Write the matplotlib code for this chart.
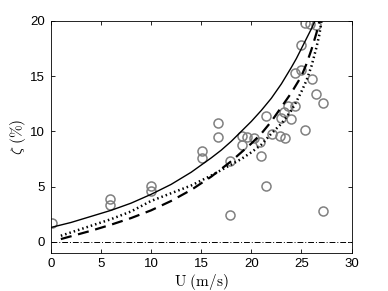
import matplotlib
matplotlib.use('Agg')
import matplotlib.pyplot as plt

plt.rcParams['font.family'] = ['Liberation Sans', 'DejaVu Sans']
plt.rcParams['mathtext.fontset'] = 'cm'

# measured damping points
meas_u = [0.1, 5.9, 5.9, 10.0, 10.0, 15.1, 15.1, 16.7, 16.7, 17.9, 17.9,
          19.1, 19.1, 19.6, 20.3, 20.9, 21.0, 21.5, 21.5, 22.1, 22.9, 23.4,
          23.0, 24.0, 23.3, 23.7, 24.4, 24.4, 25.0, 25.0, 25.4, 25.9, 26.5,
          26.1, 26.5, 27.2, 25.4, 27.2]
meas_z = [1.7, 3.9, 3.3, 5.1, 4.6, 8.2, 7.6, 10.8, 9.5, 7.3, 2.4,
          9.6, 8.8, 9.5, 9.4, 9.0, 7.8, 11.4, 5.1, 9.8, 9.6, 9.4,
          11.2, 11.1, 11.8, 12.3, 12.3, 15.3, 15.6, 17.8, 19.8, 19.7, 19.6,
          14.7, 13.4, 12.6, 10.1, 2.8]

# model curves
solid_u = [0, 2, 4, 6, 8, 10, 12, 14, 16, 17, 18, 19, 20, 21, 22, 23, 24,
           24.5, 25, 25.5, 26, 26.35]
solid_z = [1.3, 1.75, 2.3, 2.85, 3.5, 4.3, 5.2, 6.3, 7.6, 8.3, 9.1, 10.0,
           10.9, 11.9, 13.0, 14.3, 15.8, 16.6, 17.5, 18.4, 19.3, 20.0]

dash_u = [1, 2, 4, 6, 8, 10, 12, 14, 16, 18, 19, 20, 21, 22, 23, 24, 25,
          25.5, 26, 26.5, 26.8]
dash_z = [0.25, 0.5, 1.0, 1.55, 2.15, 2.85, 3.7, 4.7, 5.9, 7.3, 8.1, 8.9,
          9.8, 10.9, 12.2, 13.5, 15.0, 16.1, 17.4, 18.9, 20.0]

dot_u = [1, 2, 4, 6, 8, 10, 12, 14, 16, 18, 19, 20, 21, 22, 23, 24, 24.5,
         25, 25.5, 26, 26.5, 26.8, 27.0]
dot_z = [0.55, 0.85, 1.45, 2.05, 2.75, 3.7, 4.4, 5.1, 6.0, 7.0, 7.5, 8.1,
         8.8, 9.8, 10.7, 11.9, 12.7, 13.6, 14.6, 15.9, 17.6, 18.8, 20.0]

fig = plt.figure(figsize=(3.88, 2.91), dpi=100)
ax = fig.add_axes([0.131, 0.131, 0.775, 0.797])

ax.axhline(0, color='k', lw=0.7, ls='-.', dashes=(6, 2, 1, 2))
ax.plot(meas_u, meas_z, 'o', ms=6.5, mfc='none', mec='#808080', mew=1.1)
ax.plot(solid_u, solid_z, '-', color='k', lw=1.0)
ax.plot(dash_u, dash_z, '--', color='k', lw=1.6, dashes=(5, 3))
ax.plot(dot_u, dot_z, ':', color='k', lw=1.8, dashes=(0.6, 1.2))

ax.set_xlim(0, 30)
ax.set_ylim(-1, 20)
ax.set_xticks([0, 5, 10, 15, 20, 25, 30])
ax.set_yticks([0, 5, 10, 15, 20])
ax.tick_params(direction='in', top=True, right=True, length=3, width=0.6,
               labelsize=9.5, pad=4)
for s in ax.spines.values():
    s.set_linewidth(0.6)

ax.set_xlabel(r'$\mathrm{U\ (m/s)}$', fontsize=11, labelpad=1)
ax.set_ylabel(r'$\zeta\ \mathrm{(\%)}$', fontsize=11, labelpad=2)

fig.savefig('out.png', dpi=100)
